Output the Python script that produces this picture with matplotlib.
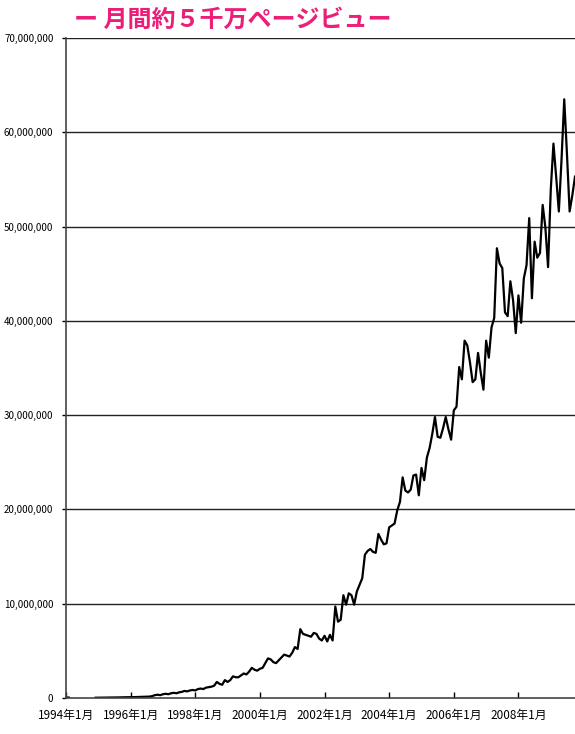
import numpy as np
import matplotlib
matplotlib.use("Agg")
import matplotlib.pyplot as plt

plt.rcParams['font.family'] = ['Noto Sans CJK JP', 'DejaVu Sans']

# monthly page views (millions), Jan 1994 .. Oct 2009; nan = no data
pv_1994_1996 = [0.05, 0.05, np.nan, np.nan, np.nan, np.nan, np.nan, np.nan, np.nan, np.nan, np.nan, 0.03,
                0.03, 0.04, 0.04, 0.05, 0.05, 0.05, 0.06, 0.06, 0.07, 0.07, 0.08, 0.08,
                0.09, 0.09, 0.10, 0.10, 0.11, 0.12, 0.13, 0.15, 0.20, 0.30, 0.35, 0.30]
pv_1997_1998 = [0.40, 0.45, 0.40, 0.50, 0.55, 0.50, 0.60, 0.65, 0.75, 0.70, 0.80, 0.85,
                0.80, 0.95, 1.00, 0.95, 1.10, 1.15, 1.20, 1.30, 1.70, 1.50, 1.40, 1.90]
pv_1999_2000 = [1.70, 1.90, 2.30, 2.20, 2.20, 2.40, 2.60, 2.50, 2.80, 3.20, 3.00, 2.90,
                3.10, 3.20, 3.70, 4.20, 4.10, 3.80, 3.70, 4.00, 4.30, 4.60, 4.50, 4.40]
pv_2001_2002 = [4.80, 5.40, 5.20, 7.30, 6.80, 6.70, 6.60, 6.50, 6.90, 6.80, 6.30, 6.10,
                6.60, 6.00, 6.70, 6.10, 9.70, 8.10, 8.30, 10.9, 9.90, 11.1, 10.9, 9.90]
pv_2003_2004 = [11.3, 12.0, 12.7, 15.2, 15.6, 15.8, 15.5, 15.4, 17.4, 16.8, 16.3, 16.4,
                18.1, 18.3, 18.5, 19.9, 20.8, 23.4, 22.0, 21.8, 22.1, 23.6, 23.7, 21.5]
pv_2005_2006 = [24.4, 23.1, 25.5, 26.5, 28.0, 29.8, 27.7, 27.6, 28.6, 29.8, 28.5, 27.4,
                30.5, 30.9, 35.1, 33.8, 37.9, 37.4, 35.6, 33.5, 33.8, 36.6, 34.5, 32.7]
pv_2007_2009 = [37.9, 36.1, 39.3, 40.3, 47.7, 46.1, 45.6, 40.9, 40.5, 44.2, 42.2, 38.7,
                42.7, 39.8, 44.5, 45.9, 50.9, 42.4, 48.4, 46.7, 47.2, 52.3, 49.9, 45.7,
                53.9, 58.8, 55.3, 51.6, 57.1, 63.5, 57.8, 51.6, 53.3, 55.3]

page_views = np.array(pv_1994_1996 + pv_1997_1998 + pv_1999_2000 + pv_2001_2002
                      + pv_2003_2004 + pv_2005_2006 + pv_2007_2009) * 1e6
months = np.arange(len(page_views))

tick_years = [1994, 1996, 1998, 2000, 2002, 2004, 2006, 2008]
tick_labels = [f"{y}年1月" for y in tick_years]
y_ticks = [0, 10e6, 20e6, 30e6, 40e6, 50e6, 60e6, 70e6]

fig = plt.figure(figsize=(5.75, 7.34), dpi=100)
ax = fig.add_axes([66 / 575, 36 / 734, 509 / 575, 660 / 734])

ax.plot(months, page_views, color='black', lw=1.6)

ax.set_xlim(0, len(page_views) - 1)
ax.set_ylim(0, 70e6)
ax.set_yticks(y_ticks)
ax.set_yticklabels([f"{int(v):,}" for v in y_ticks], fontsize=7)
ax.set_xticks([(y - 1994) * 12 for y in tick_years])
ax.set_xticklabels(tick_labels, fontsize=8.5)
ax.tick_params(axis='x', direction='in', length=4.5, width=1, pad=8)
ax.tick_params(axis='y', direction='out', length=3, width=1, pad=6)

for v in y_ticks[1:]:
    ax.axhline(v, color='#222222', lw=1, zorder=0)

for s in ['top', 'right']:
    ax.spines[s].set_visible(False)
ax.spines['left'].set_linewidth(1.2)
ax.spines['bottom'].set_linewidth(1.2)
ax.spines['bottom'].set_color('#444444')
ax.spines['left'].set_color('#444444')

fig.text(74 / 575, 1 - 20 / 734, "ー 月間約５千万ページビュー", color='#EB1E78',
         fontsize=17.3, fontweight='bold', va='center', ha='left')

fig.savefig("out.png", dpi=100)
